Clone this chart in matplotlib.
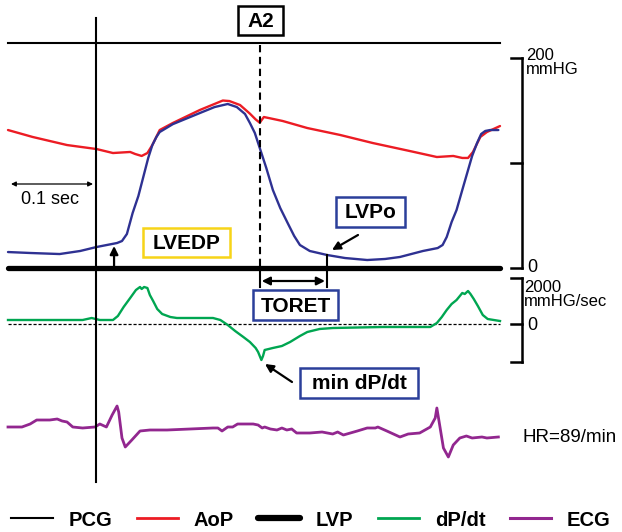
import matplotlib
matplotlib.use("Agg")
import matplotlib.pyplot as plt
from matplotlib.patches import Rectangle
from matplotlib.lines import Line2D

plt.rcParams['font.family'] = ['Liberation Sans', 'DejaVu Sans']

# ---------------- data (time in ms) ----------------
aop_t = [0, 30, 72, 108, 128, 149, 155, 163, 170, 176, 185, 201, 234, 262, 270, 283,
         295, 302, 307, 312, 320, 335, 365, 405, 445, 490, 523, 543, 554, 561, 567,
         576, 584, 600]
aop_p = [131.4, 124.8, 117.1, 113.3, 109.5, 110.5, 108.6, 106.7, 109.5, 117.1, 131.4,
         138.1, 150.5, 159.5, 159.0, 155.2, 147.0, 141.5, 138.4, 143.8, 142.5, 140.0,
         133.3, 126.7, 119.0, 111.4, 105.7, 106.7, 104.8, 104.8, 110.5, 124.8, 129.5,
         135.2]

lvp_t = [0, 27, 63, 88, 108, 133, 139, 145, 152, 159, 165, 171, 176, 181, 185, 201,
         234, 252, 268, 279, 289, 295, 301, 307, 315, 323, 332, 341, 349, 356, 368,
         389, 411, 438, 460, 478, 506, 524, 530, 535, 541, 547, 554, 560, 566, 572,
         577, 582, 588, 598]
lvp_p = [15.2, 14.3, 13.3, 16.2, 20.0, 23.8, 25.7, 32.4, 52.4, 68.6, 86.7, 104.8,
         117.0, 124.8, 129.5, 137.0, 147.6, 153.3, 156.2, 153.3, 146.7, 138.1, 128.6,
         114.3, 95.2, 74.3, 57.1, 42.9, 30.5, 21.9, 16.2, 12.4, 9.5, 7.6, 8.6, 10.5,
         16.2, 19.0, 21.9, 29.5, 43.8, 55.2, 74.3, 90.5, 106.7, 119.0, 127.6, 130.5,
         131.4, 131.4]

dpdt_t = [0, 91, 102, 112, 128, 134, 141, 149, 156, 161, 163, 166, 170, 173, 177,
          182, 188, 198, 206, 250, 259, 268, 277, 287, 295, 302, 305, 309, 311, 313,
          323, 334, 344, 356, 365, 380, 396, 457, 515, 523, 529, 535, 541, 547, 554,
          557, 561, 564, 568, 573, 579, 585, 600]
dpdt_v = [174, 174, 261, 174, 174, 348, 739, 1130, 1478, 1609, 1522, 1609, 1565,
          1261, 1000, 652, 435, 304, 261, 261, 174, -43, -304, -565, -783, -1043,
          -1217, -1565, -1391, -1130, -1043, -957, -783, -522, -348, -217, -174, -130,
          -130, 43, 304, 609, 870, 1043, 1348, 1304, 1435, 1304, 1087, 783, 391, 217,
          130]

ecg_t = [0, 17, 27, 35, 51, 60, 66, 72, 79, 91, 106, 112, 120, 127, 133, 135, 139,
         143, 151, 161, 173, 194, 250, 256, 261, 268, 274, 280, 299, 305, 310, 313,
         320, 328, 334, 340, 346, 352, 368, 383, 396, 402, 409, 426, 438, 448, 451,
         462, 478, 488, 502, 515, 521, 523, 527, 531, 537, 543, 551, 559, 566, 578,
         584, 598]
ecg_v = [0.05, 0.05, 0.2, 0.4, 0.4, 0.45, 0.35, 0.3, 0.05, 0.0, 0.05, 0.2, 0.05,
         0.65, 1.1, 0.8, -0.5, -0.95, -0.6, -0.15, -0.1, -0.1, 0.0, 0.0, -0.15, 0.05,
         0.05, 0.2, 0.2, 0.15, 0.0, 0.05, -0.05, -0.1, 0.0, -0.1, -0.05, -0.25, -0.25,
         -0.2, -0.3, -0.2, -0.35, -0.15, 0.0, 0.0, 0.05, -0.15, -0.45, -0.3, -0.25,
         0.05, 0.5, 1.0, 0.0, -1.0, -1.45, -0.85, -0.5, -0.4, -0.5, -0.45, -0.5, -0.45]

pcg_t = [0, 600]          # horizontal PCG trace span
pcg_mark_t = 107          # PCG reference vertical line (ms)
a2_t = 307                # A2 (aortic closure)
lvpo_t = 389              # LVP at end of TORET
lvedp_t = 133

pressure_ticks = [0, 100, 200]
dpdt_ticks = [2000, 0, -1650]

# ---------------- figure ----------------
W, H = 622, 532
fig = plt.figure(figsize=(W / 100, H / 100), dpi=100)

X0 = -8 * 1.2195          # ms at left figure edge
X1 = (W - 8) * 1.2195     # ms at right figure edge

def data_axes(ylo, yhi):
    a = fig.add_axes([0, 0, 1, 1])
    a.set_xlim(X0, X1)
    a.set_ylim(ylo, yhi)
    a.axis('off')
    a.patch.set_alpha(0)
    return a

# pressure axis: 0 mmHg at y px 268, 1.05 px/mmHg
ax_p = data_axes((268 - H) / 1.05, 268 / 1.05)
# dP/dt axis: 0 at y px 324, 0.023 px per unit
ax_d = data_axes((324 - H) / 0.023, 324 / 0.023)
# ECG axis: baseline at y px 428, 20 px per mV
ax_e = data_axes((428 - H) / 20, 428 / 20)
# overlay in pixel coordinates for annotations
ax = fig.add_axes([0, 0, 1, 1])
ax.set_xlim(0, W)
ax.set_ylim(H, 0)
ax.axis('off')
ax.patch.set_alpha(0)

RED = '#ec1c24'
BLUE = '#2e3192'
GREEN = '#00a651'
PURPLE = '#92278f'
YELLOW = '#f7d418'
BOXBLUE = '#2b3f9a'

def t2x(t):
    return 8 + t / 1.2195

# traces
ax_p.plot(aop_t, aop_p, color=RED, lw=1.7, solid_capstyle='round', solid_joinstyle='round')
ax_p.plot(lvp_t, lvp_p, color=BLUE, lw=1.7, solid_capstyle='round', solid_joinstyle='round')
ax_p.plot(pcg_t, [0, 0], color='black', lw=3.8, solid_capstyle='round')
ax_d.plot(pcg_t, [0, 0], color='black', lw=0.9, ls=(0, (2.5, 1.5)))
ax_d.plot(dpdt_t, dpdt_v, color=GREEN, lw=1.7, solid_joinstyle='round')
ax_e.plot(ecg_t, ecg_v, color=PURPLE, lw=2.0, solid_joinstyle='round')

# PCG lines
pcg_y = 43
ax.plot([t2x(pcg_t[0]), t2x(pcg_t[1])], [pcg_y, pcg_y], color='black', lw=1.5)
ax.plot([t2x(pcg_mark_t)] * 2, [18, 482], color='black', lw=1.5)

BOXFS = 15

# A2 dashed line and box
xa2 = t2x(a2_t)
ax.plot([xa2, xa2], [45, 268], color='black', lw=1.5, ls=(0, (3.5, 2.2)))
ax.add_patch(Rectangle((238, 6), 45, 29, fill=False, ec='black', lw=1.8))
ax.text(260.5, 21.5, 'A2', ha='center', va='center', fontsize=BOXFS, fontweight='bold')

# TORET bracket
xlv = t2x(lvpo_t)
ax.plot([xa2, xa2], [268, 287], color='black', lw=1.5)
ax.plot([xlv, xlv], [255, 287], color='black', lw=1.5)
ax.annotate('', xy=(xa2 + 2, 281), xytext=(xlv - 2, 281),
            arrowprops=dict(arrowstyle='<|-|>', color='black', lw=1.6,
                            mutation_scale=12, shrinkA=0, shrinkB=0))
ax.add_patch(Rectangle((253, 290), 85, 30, fill=False, ec=BOXBLUE, lw=1.8))
ax.text(295.5, 306, 'TORET', ha='center', va='center', fontsize=BOXFS, fontweight='bold')

# LVEDP
xed = t2x(lvedp_t)
ax.annotate('', xy=(xed - 3, 246), xytext=(xed - 3, 268),
            arrowprops=dict(arrowstyle='-|>', color='black', lw=1.6,
                            mutation_scale=12, shrinkA=0, shrinkB=0))
ax.add_patch(Rectangle((143, 228), 87, 29, fill=False, ec=YELLOW, lw=1.8))
ax.text(186.5, 243.5, 'LVEDP', ha='center', va='center', fontsize=BOXFS, fontweight='bold')

# LVPo
ax.annotate('', xy=(332, 250), xytext=(358, 235),
            arrowprops=dict(arrowstyle='-|>', color='black', lw=1.6,
                            mutation_scale=12, shrinkA=0, shrinkB=0))
ax.add_patch(Rectangle((336, 197), 69, 30, fill=False, ec=BOXBLUE, lw=1.8))
ax.text(370.5, 212.5, 'LVPo', ha='center', va='center', fontsize=BOXFS, fontweight='bold')

# min dP/dt
ax.annotate('', xy=(265, 364), xytext=(292, 382),
            arrowprops=dict(arrowstyle='-|>', color='black', lw=1.6,
                            mutation_scale=12, shrinkA=0, shrinkB=0))
ax.add_patch(Rectangle((300, 368), 118, 30, fill=False, ec=BOXBLUE, lw=1.8))
ax.text(359, 383.5, 'min dP/dt', ha='center', va='center', fontsize=BOXFS, fontweight='bold')

# 0.1 sec scale
ax.annotate('', xy=(11, 184), xytext=(93, 184),
            arrowprops=dict(arrowstyle='<|-|>', color='black', lw=0.9,
                            mutation_scale=7, shrinkA=0, shrinkB=0))
ax.text(50, 200, '0.1 sec', ha='center', va='center', fontsize=13)

# right-side scale brackets (pressure)
xs = 522
py = [268 - v * 1.05 for v in pressure_ticks]
ax.plot([xs, xs], [min(py), max(py)], color='black', lw=1.8, solid_capstyle='projecting')
for yy in py:
    ax.plot([511, xs], [yy, yy], color='black', lw=1.8, solid_capstyle='projecting')
LFS = 12
ax.text(526, 56, '200', ha='left', va='center', fontsize=LFS)
ax.text(526, 70, 'mmHG', ha='left', va='center', fontsize=LFS)
ax.text(527, 267, '0', ha='left', va='center', fontsize=13)

dy = [324 - v * 0.023 for v in dpdt_ticks]
ax.plot([xs, xs], [min(dy), max(dy)], color='black', lw=1.8, solid_capstyle='projecting')
for yy in dy:
    ax.plot([511, xs], [yy, yy], color='black', lw=1.8, solid_capstyle='projecting')
ax.text(524, 287, '2000', ha='left', va='center', fontsize=LFS)
ax.text(524, 301, 'mmHG/sec', ha='left', va='center', fontsize=LFS)
ax.text(527, 325, '0', ha='left', va='center', fontsize=13)

ax.text(522, 438, 'HR=89/min', ha='left', va='center', fontsize=13.5)

# legend
handles = [Line2D([], [], color='black', lw=1.5),
           Line2D([], [], color=RED, lw=2.0),
           Line2D([], [], color='black', lw=4.5, solid_capstyle='round'),
           Line2D([], [], color=GREEN, lw=2.0),
           Line2D([], [], color=PURPLE, lw=2.2)]
labels = ['PCG', 'AoP', 'LVP', 'dP/dt', 'ECG']
fig.legend(handles, labels, loc='center', bbox_to_anchor=(0.5, 1 - 520 / H), ncol=5,
           frameon=False, prop={'weight': 'bold', 'size': 14.5}, handlelength=2.05,
           handletextpad=0.8, columnspacing=1.2, borderaxespad=0)

fig.savefig('out.png', dpi=100)
